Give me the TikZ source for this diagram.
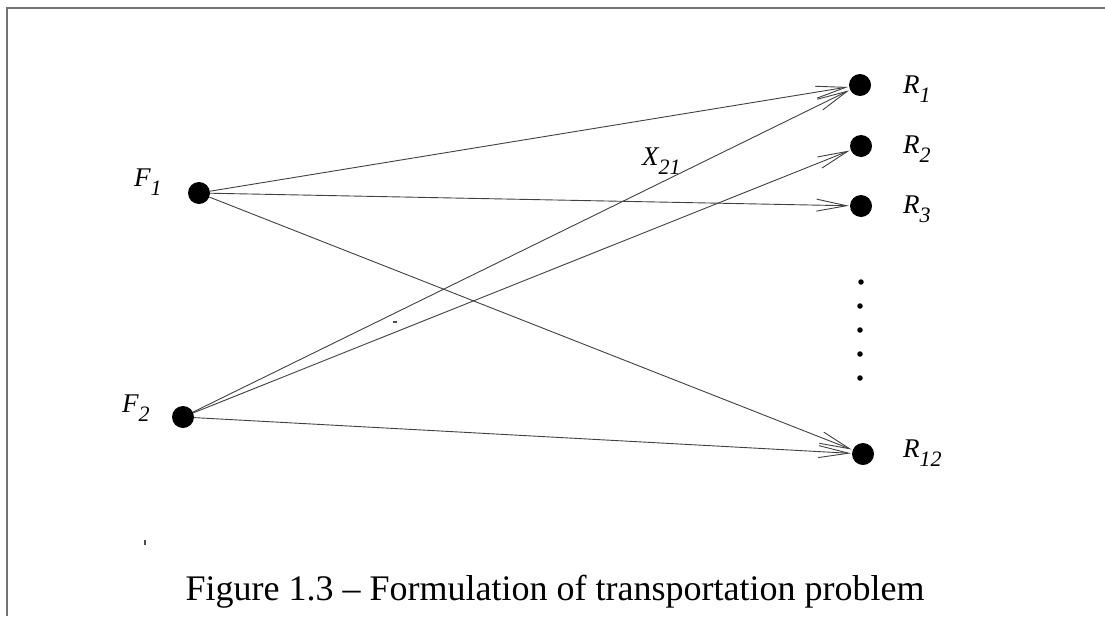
\documentclass[tikz,border=0pt]{standalone}
\usepackage{fontspec}
\setmainfont{Liberation Serif}
\usetikzlibrary{arrows.meta}
\newcommand\lowsub[1]{\raisebox{-0.36em}{\fontsize{22}{22}\selectfont #1}}
\begin{document}
\begin{tikzpicture}[x=1pt,y=-1pt,
  bigdot/.style={circle,fill=black,inner sep=0pt,minimum size=22pt},
  smalldot/.style={circle,fill=black,inner sep=0pt,minimum size=5.5pt},
  lbl/.style={inner sep=0pt,anchor=base west,font=\fontsize{27}{30}\selectfont\itshape},
  flow/.style={draw=black!75,line width=0.9pt,shorten >=1pt,
    -{Straight Barb[length=30pt,width=12pt,line width=0.9pt]}},
  frame/.style={draw=black!55,line width=2pt}]
\useasboundingbox (0,0) rectangle (1105,616);
\draw[frame] (7,616) -- (7,8) -- (1105,8);
% dots
\node[bigdot] (F1) at (199,193) {};
\node[bigdot] (F2) at (183,417) {};
\node[bigdot] (R1) at (860,85) {};
\node[bigdot] (R2) at (861,146) {};
\node[bigdot] (R3) at (861,206) {};
\node[bigdot] (R12) at (863,454) {};
\node[smalldot] (d1) at (861,282) {};
\node[smalldot] (d2) at (860,306) {};
\node[smalldot] (d3) at (860,330) {};
\node[smalldot] (d4) at (860,354) {};
\node[smalldot] (d5) at (860,378) {};
% labels
\node[lbl] (lF1) at (134,186) {F\lowsub{1}};
\node[lbl] (lF2) at (122,412) {F\lowsub{2}};
\node[lbl] (lR1) at (903,93) {R\lowsub{1}};
\node[lbl] (lR2) at (903,153) {R\lowsub{2}};
\node[lbl] (lR3) at (903,213) {R\lowsub{3}};
\node[lbl] (lR12) at (903,457) {R\lowsub{12}};
\node[lbl] (lX) at (642,165) {X\lowsub{21}};
% arrows
\draw[flow] (F1) -- (R1);
\draw[flow] (F1) -- (R3);
\draw[flow] (F1) -- (R12);
\draw[flow] (F2) -- (R1);
\draw[flow] (F2) -- (R2);
\draw[flow] (F2) -- (R12);
% small marks
\draw[black!70,line width=1.2pt] (393,322) -- (397,322);
\draw[black!70,line width=1.5pt] (145,540) -- (145,545);
% caption
\node[inner sep=0pt,anchor=base,font=\fontsize{36}{40}\selectfont] (cap) at (555,600) {Figure 1.3 – Formulation of transportation problem};
\end{tikzpicture}
\end{document}
